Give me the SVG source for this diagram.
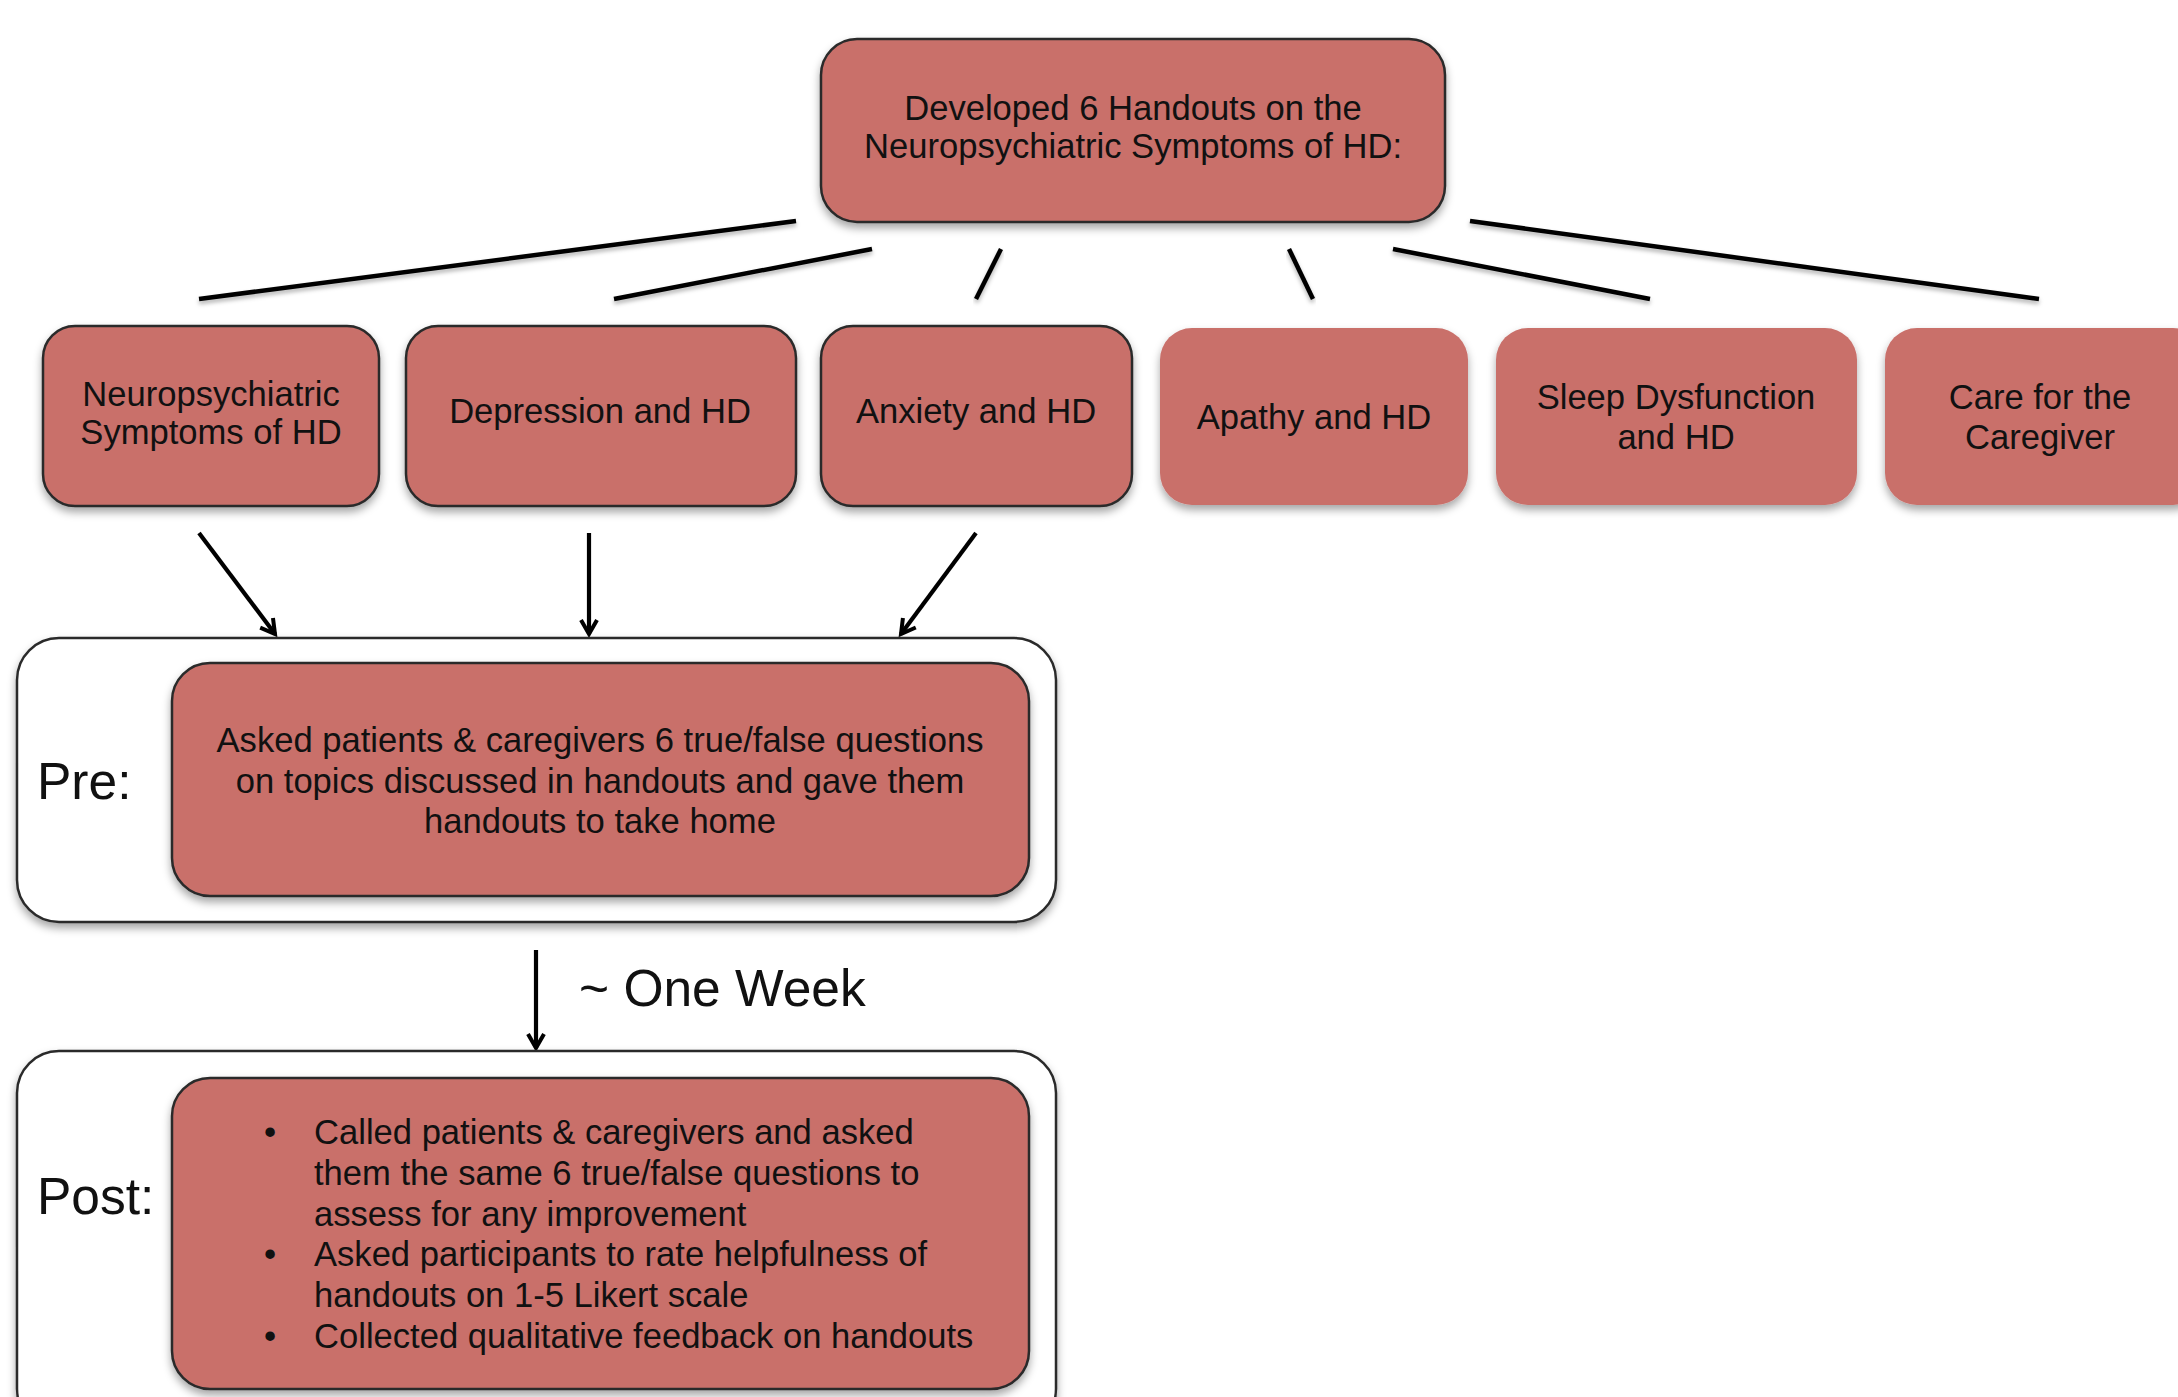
<svg xmlns="http://www.w3.org/2000/svg" width="2178" height="1397" viewBox="0 0 2178 1397">
<defs>
<filter id="sh" x="-10%" y="-10%" width="120%" height="130%">
<feDropShadow dx="0" dy="5" stdDeviation="4" flood-color="#000" flood-opacity="0.35"/>
</filter>
<filter id="lsh" x="-10%" y="-10%" width="120%" height="130%">
<feDropShadow dx="0" dy="3" stdDeviation="2" flood-color="#000" flood-opacity="0.3"/>
</filter>
<marker id="arr" markerWidth="22" markerHeight="22" refX="16" refY="10" orient="auto" markerUnits="userSpaceOnUse">
<path d="M2,2 L16,10 L2,18" fill="none" stroke="#000" stroke-width="4"/>
</marker>
</defs>
<style>
.b{fill:#C9706B;stroke:#2a2a2a;stroke-width:2.5;filter:url(#sh)}
.n{fill:#C9706B;stroke:none;filter:url(#sh)}
.o{fill:#fff;stroke:#2a2a2a;stroke-width:2.5;filter:url(#sh)}
text{font-family:"Liberation Sans",Arial,sans-serif;font-size:34.6px;fill:#111;text-anchor:middle}
.lab{font-size:51.5px;text-anchor:start}
.l{text-anchor:start}
.c{stroke:#000;stroke-width:4.5;fill:none;filter:url(#lsh)}
.a{stroke:#000;stroke-width:4.2;fill:none;marker-end:url(#arr)}
</style>
<g id="connectors">
<line class="c" x1="796" y1="221" x2="199" y2="299"/>
<line class="c" x1="872" y1="249" x2="614" y2="299"/>
<line class="c" x1="1001" y1="249" x2="976" y2="299"/>
<line class="c" x1="1289" y1="249" x2="1313" y2="299"/>
<line class="c" x1="1393" y1="249" x2="1650" y2="299"/>
<line class="c" x1="1470" y1="221" x2="2039" y2="299"/>
<line class="a" x1="199" y1="533" x2="275" y2="634"/>
<line class="a" x1="589" y1="533" x2="589" y2="634"/>
<line class="a" x1="976" y1="533" x2="901" y2="634"/>
<line class="a" x1="536" y1="950" x2="536" y2="1048"/>
</g>
<g id="top">
<rect class="b" x="821" y="39" width="624" height="183" rx="36"/>
<text x="1133" y="120">Developed 6 Handouts on the</text>
<text x="1133" y="158">Neuropsychiatric Symptoms of HD:</text>
</g>
<g id="n1">
<rect class="b" x="43" y="326" width="336" height="180" rx="32"/>
<text x="211" y="406">Neuropsychiatric</text>
<text x="211" y="444">Symptoms of HD</text>
</g>
<g id="n2">
<rect class="b" x="406" y="326" width="390" height="180" rx="32"/>
<text x="600" y="423">Depression and HD</text>
</g>
<g id="n3">
<rect class="b" x="821" y="326" width="311" height="180" rx="32"/>
<text x="976" y="423">Anxiety and HD</text>
</g>
<g id="n4">
<rect class="n" x="1160" y="328" width="308" height="177" rx="32"/>
<text x="1314" y="429">Apathy and HD</text>
</g>
<g id="n5">
<rect class="n" x="1496" y="328" width="361" height="177" rx="32"/>
<text x="1676" y="409">Sleep Dysfunction</text>
<text x="1676" y="449">and HD</text>
</g>
<g id="n6">
<rect class="n" x="1885" y="328" width="320" height="177" rx="32"/>
<text x="2040" y="409">Care for the</text>
<text x="2040" y="449">Caregiver</text>
</g>
<g id="pre">
<rect class="o" x="17" y="638" width="1039" height="284" rx="42"/>
<text class="lab" x="37" y="799">Pre:</text>
<rect class="b" x="172" y="663" width="857" height="233" rx="38"/>
<text x="600" y="752">Asked patients &amp; caregivers 6 true/false questions</text>
<text x="600" y="793">on topics discussed in handouts and gave them</text>
<text x="600" y="833">handouts to take home</text>
</g>
<g id="week">
<text class="lab" x="579" y="1006">~ One Week</text>
</g>
<g id="post">
<rect class="o" x="17" y="1051" width="1039" height="380" rx="42"/>
<text class="lab" x="37" y="1214">Post:</text>
<rect class="b" x="172" y="1078" width="857" height="311" rx="38"/>
<text x="270" y="1144">•</text>
<text class="l" x="314" y="1144">Called patients &amp; caregivers and asked</text>
<text class="l" x="314" y="1185">them the same 6 true/false questions to</text>
<text class="l" x="314" y="1226">assess for any improvement</text>
<text x="270" y="1266">•</text>
<text class="l" x="314" y="1266">Asked participants to rate helpfulness of</text>
<text class="l" x="314" y="1307">handouts on 1-5 Likert scale</text>
<text x="270" y="1348">•</text>
<text class="l" x="314" y="1348">Collected qualitative feedback on handouts</text>
</g>
</svg>
